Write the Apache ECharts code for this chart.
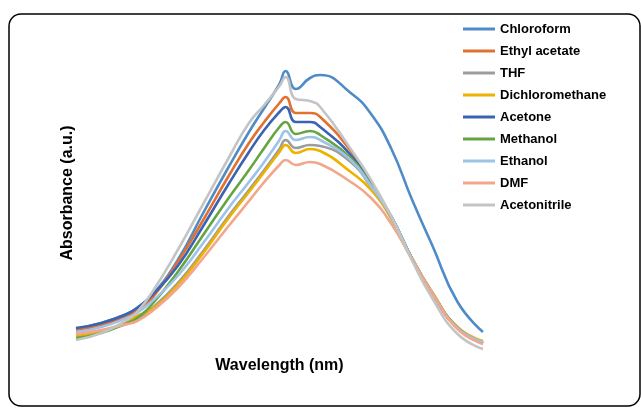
<!DOCTYPE html>
<html>
<head>
<meta charset="utf-8">
<script src="https://cdn.jsdelivr.net/npm/echarts@6/dist/echarts.min.js"></script>
<style>
html,body{margin:0;padding:0;background:#fff;}
#chart{width:641px;height:408px;}
</style>
</head>
<body>
<div id="chart"></div>
<script>
// Wavelength samples (nm) — axis is hidden in the reference
const wavelengths = [350,375,400,410,425,450,475,500,520,535,550,556,566,580,590,620,640,660,680,700,725,750];

const seriesNames = ['Chloroform','Ethyl acetate','THF','Dichloromethane','Acetone','Methanol','Ethanol','DMF','Acetonitrile'];

const chloroform     = [0.21,0.27,0.36,0.42,0.55,0.90,1.37,1.83,2.18,2.42,2.66,2.79,2.61,2.72,2.75,2.57,2.36,2.01,1.51,1.05,0.48,0.18];
const ethylAcetate   = [0.20,0.25,0.34,0.39,0.52,0.88,1.30,1.74,2.07,2.28,2.47,2.53,2.37,2.37,2.33,1.99,1.68,1.33,0.92,0.57,0.22,0.07];
const thf            = [0.15,0.19,0.26,0.31,0.42,0.67,0.99,1.34,1.60,1.80,2.01,2.10,2.02,2.05,2.04,1.88,1.63,1.33,0.92,0.57,0.22,0.07];
const dichloromethane= [0.14,0.19,0.28,0.34,0.41,0.65,0.97,1.32,1.58,1.78,1.98,2.05,1.97,2.01,1.99,1.78,1.60,1.31,0.92,0.58,0.23,0.09];
const acetone        = [0.22,0.27,0.36,0.42,0.55,0.84,1.24,1.66,1.98,2.20,2.38,2.43,2.28,2.28,2.23,1.95,1.66,1.33,0.92,0.57,0.22,0.07];
const methanol       = [0.12,0.17,0.27,0.32,0.46,0.78,1.15,1.52,1.80,2.02,2.23,2.28,2.16,2.19,2.15,1.92,1.65,1.33,0.92,0.57,0.22,0.07];
const ethanol        = [0.18,0.23,0.32,0.37,0.49,0.74,1.07,1.42,1.68,1.88,2.10,2.19,2.10,2.13,2.10,1.90,1.64,1.33,0.92,0.57,0.22,0.08];
const dmf            = [0.16,0.20,0.26,0.29,0.39,0.62,0.92,1.24,1.49,1.68,1.85,1.90,1.85,1.88,1.86,1.68,1.52,1.26,0.91,0.57,0.21,0.06];
const acetonitrile   = [0.10,0.17,0.30,0.38,0.58,1.00,1.46,1.92,2.27,2.45,2.64,2.73,2.51,2.49,2.43,2.01,1.70,1.33,0.90,0.52,0.16,0.01];

const seriesValues = [chloroform, ethylAcetate, thf, dichloromethane, acetone, methanol, ethanol, dmf, acetonitrile];
const seriesColors = ['#4F8BC6','#E2702E','#9C9C9C','#EDB100','#3A63B3','#66A441','#9DC3E6','#F2A68B','#C4C4C4'];

const font = '"Liberation Sans", Arial, Helvetica, sans-serif';

const chart = echarts.init(document.getElementById('chart'), null, {renderer:'canvas'});
chart.setOption({
  animation: false,
  backgroundColor: '#ffffff',
  color: seriesColors,
  graphic: [{
    type: 'rect',
    shape: {x: 9, y: 14, width: 631, height: 392, r: 12},
    style: {fill: 'none', stroke: '#000', lineWidth: 1.5},
    silent: true, z: 0
  }],
  legend: {
    orient: 'vertical',
    left: 458,
    top: 17,
    icon: 'rect',
    itemWidth: 32,
    itemHeight: 3,
    itemGap: 8,
    selectedMode: false,
    data: seriesNames,
    textStyle: {fontFamily: font, fontWeight: 'bold', fontSize: 13, color: '#000', lineHeight: 14}
  },
  grid: {left: 76, right: 158, top: 36, bottom: 58},
  xAxis: {
    type: 'value', min: 350, max: 750,
    name: 'Wavelength (nm)', nameLocation: 'middle', nameGap: 8,
    nameTextStyle: {fontFamily: font, fontWeight: 'bold', fontSize: 16, color: '#000'},
    axisLine: {show: false}, axisTick: {show: false}, axisLabel: {show: false}, splitLine: {show: false}
  },
  yAxis: {
    type: 'value', min: 0, max: 3.14,
    name: 'Absorbance (a.u.)', nameLocation: 'middle', nameGap: 0, nameRotate: 90,
    nameTextStyle: {fontFamily: font, fontWeight: 'bold', fontSize: 16, color: '#000'},
    axisLine: {show: false}, axisTick: {show: false}, axisLabel: {show: false}, splitLine: {show: false}
  },
  series: seriesNames.map((name, i) => ({
    name: name,
    type: 'line',
    smooth: 0.5,
    showSymbol: false,
    symbol: 'none',
    lineStyle: {width: 2.6, color: seriesColors[i]},
    itemStyle: {color: seriesColors[i]},
    data: wavelengths.map((w, j) => [w, seriesValues[i][j]])
  }))
});
</script>
</body>
</html>
